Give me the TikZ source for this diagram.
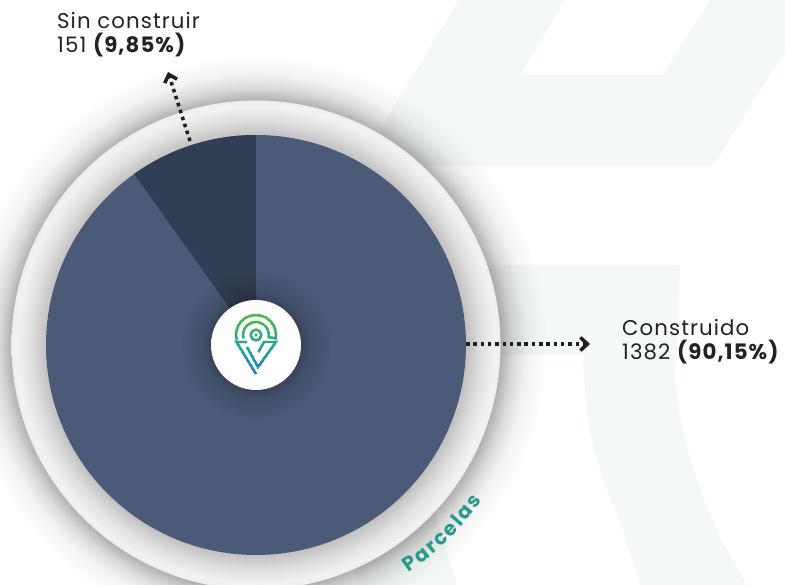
\documentclass[tikz,border=0pt]{standalone}
\usepackage{fontspec}
\usetikzlibrary{arrows.meta,decorations.text,fadings}
\newfontfamily\popf[LetterSpace=5]{Poppins}
\newfontfamily\popb{Poppins}
\definecolor{pale}{HTML}{F4F8F7}
\definecolor{piemain}{HTML}{4A5A77}
\definecolor{piedark}{HTML}{323E53}
\definecolor{teal}{HTML}{2A9A88}
\definecolor{ink}{HTML}{222222}
\definecolor{logoA}{HTML}{4CB848}
\definecolor{logoB}{HTML}{1EA694}
\definecolor{logoC}{HTML}{1A80C8}
% outer shadow: circle of radius 292, 25bp = 292
\pgfdeclareradialshading{outerfadesh}{\pgfpointorigin}{%
  color(0bp)=(pgftransparent!70);
  color(20.9bp)=(pgftransparent!70);
  color(21.9bp)=(pgftransparent!85);
  color(23.1bp)=(pgftransparent!95);
  color(24.85bp)=(pgftransparent!100);
  color(50bp)=(pgftransparent!100)}
\pgfdeclarefading{outerfade}{\pgfuseshading{outerfadesh}}
% shadow round the hub: circle of radius 75, 25bp = 75
\pgfdeclareradialshading{hubfadesh}{\pgfpointorigin}{%
  color(0bp)=(pgftransparent!76);
  color(15bp)=(pgftransparent!76);
  color(18.35bp)=(pgftransparent!90);
  color(25bp)=(pgftransparent!100);
  color(50bp)=(pgftransparent!100)}
\pgfdeclarefading{hubfade}{\pgfuseshading{hubfadesh}}
% ring: circle of radius 244.5, 25bp = 244.5
\pgfdeclareradialshading{ringsh}{\pgfpointorigin}{%
  color(0bp)=(black!24);
  color(21.5bp)=(black!24);
  color(23.1bp)=(black!12);
  color(24.5bp)=(black!5);
  color(25bp)=(black!7);
  color(50bp)=(black!7)}
\tikzset{
  bgshape/.style={fill=pale,draw=none},
  lbl/.style={inner sep=0pt,anchor=north west,align=left,text=ink,font=\popf\fontsize{21.3}{24.3}\selectfont},
  dotarrow/.style={draw=black!88,line width=3.5pt,dash pattern=on 3.5pt off 3.8pt,-{Straight Barb[length=7pt,width=13pt,line width=3.5pt]}},
  logoline/.style={line width=2.4pt,line cap=butt,line join=miter}
}
\newcommand\logostrokes{%
  \draw[logoline] (256,335) ++(165:20) arc[start angle=165,end angle=370,radius=20]
     -- ++(190:7) arc[start angle=370,end angle=165,radius=13];
  \draw[logoline] (256,335) circle[radius=5.3];
  \fill (256,335) circle[radius=1.6];
  \draw[logoline] (247,342) -- (236.5,342) -- (256,374);
  \draw[logoline] (247,347) -- (258,367) -- (276,342) -- (264,342) -- (258.5,352);
}
\begin{document}
\begin{tikzpicture}[x=1pt,y=-1pt]
\useasboundingbox (0,0) rectangle (785,585);
\fill[white] (0,0) rectangle (785,585);
% pale background letter shapes
\fill[bgshape] (459,0) -- (565,0) -- (520,75) -- (663,75) -- (710,0) -- (785,0) -- (785,50) -- (713,166) -- (358,166) -- cycle;
\fill[bgshape] (450,265) -- (680,265)
   -- plot[smooth] coordinates {(675,380) (683,430) (697,480) (717,530) (747,585)}
   -- plot[smooth] coordinates {(640,585) (623,530) (603,480) (590,430) (584,380) (583,355)}
   -- (450,355) -- cycle;
\fill[bgshape] (350,540) -- (420,470) -- (435,513) -- (457,585) -- (357,585) -- cycle;
\begin{scope}
\clip (0,0) rectangle (785,585);
\coordinate (c) at (256,345);
% outer shadow of the ring
\fill[black,path fading=outerfade] (c) circle[radius=292];
% ring with the shadow of the pie
\shade[shading=ringsh] (c) circle[radius=244.5];
\end{scope}
% pie
\fill[piemain] (c) circle[radius=210];
\fill[piedark] (c) -- ++(-90:210) arc[start angle=-90,end angle=-125.46,radius=210] -- cycle;
% shadow of the centre disc
\fill[black,path fading=hubfade] (c) circle[radius=75];
\node[circle,fill=white,minimum size=90pt,inner sep=0pt] (hub) at (c) {};
% logo with a vertical colour run
\foreach \i in {0,...,15}{
  \pgfmathsetmacro\ya{313+\i*4}
  \pgfmathsetmacro\yb{\ya+4.3}
  \pgfmathsetmacro\pa{max(0,min(100,(\ya-318)/27*100))}
  \pgfmathsetmacro\pb{max(0,min(100,(\ya-345)/28*100))}
  \colorlet{mixa}{logoB!\pa!logoA}
  \colorlet{cur}{logoC!\pb!mixa}
  \begin{scope}[color=cur]
    \clip (225,\ya) rectangle (290,\yb);
    \logostrokes
  \end{scope}
}
% connectors
\coordinate (a1) at (466,344);
\coordinate (a2) at (590,344);
\coordinate (b1) at (190,141);
\coordinate (b2) at (168,72);
\draw[dotarrow] (a1) -- (a2);
\draw[dotarrow] (b1) -- (b2);
% labels
\node[lbl] (sin) at (57,11.7) {Sin construir\\151 {\bfseries(9,85\%)}};
\node[lbl] (con) at (622,318.7) {Construido\\1382 {\bfseries(90,15\%)}};
\path[decorate,decoration={text along path,text align={fit to path},
    text={|\popb\bfseries\fontsize{20}{20}\selectfont\color{teal}|Parcelas}}]
   (408.6pt,-572.7pt) arc[start angle=-56.2,end angle=-34.6,radius=274pt];
\end{tikzpicture}
\end{document}
